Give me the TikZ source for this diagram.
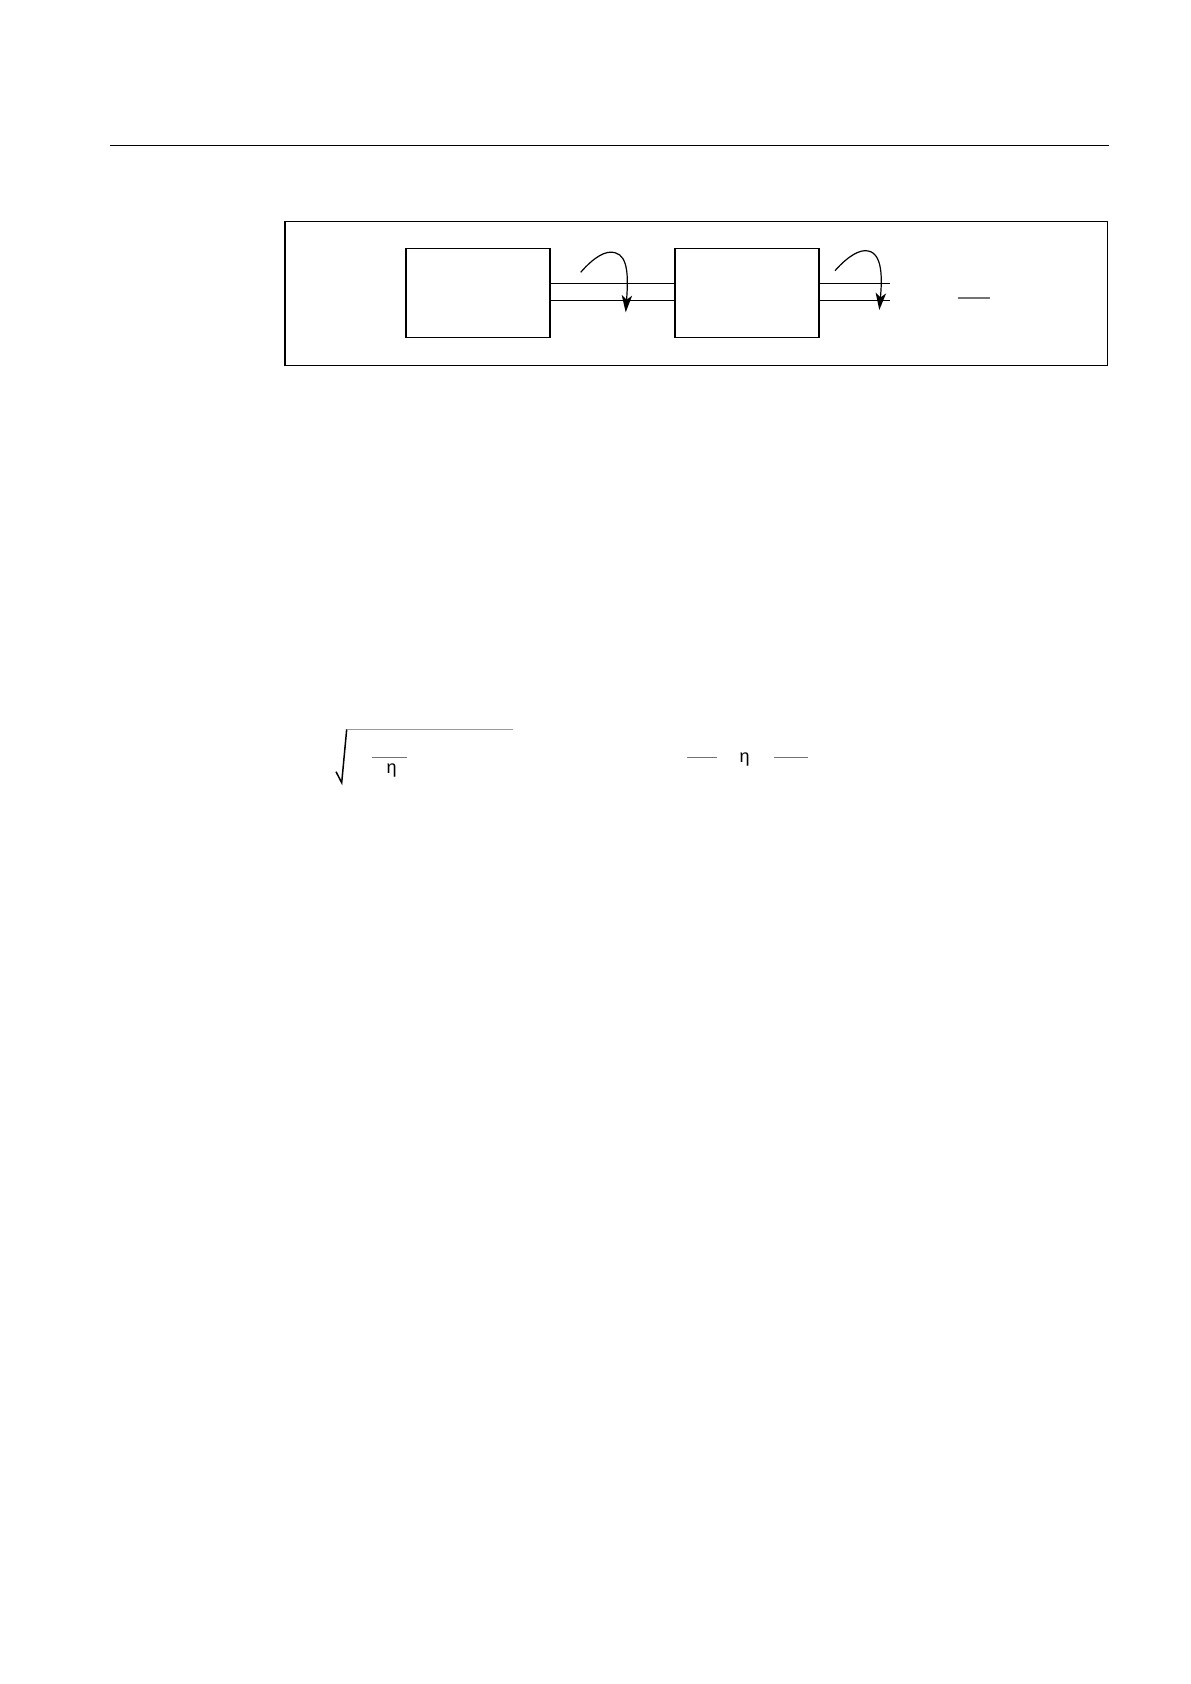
\documentclass[tikz,border=0pt]{standalone}
\usepackage{fontspec}
\setmainfont{Liberation Sans}
\usetikzlibrary{arrows.meta}
\begin{document}
\begin{tikzpicture}[x=0.5pt,y=-0.5pt,
  frame/.style={draw=black,line width=0.6pt},
  blockbox/.style={draw=black,line width=0.6pt,minimum width=72pt,minimum height=44.35pt,inner sep=0pt,anchor=north west},
  wire/.style={draw=black,line width=0.55pt},
  turn/.style={draw=black,line width=0.6pt,-{Stealth[length=8.5pt,width=5.2pt,inset=2.2pt]}},
  grayrule/.style={draw=black!55,line width=0.6pt},
  lightrule/.style={draw=black!40,line width=0.7pt},
  eta/.style={inner sep=0pt,anchor=base,font=\fontsize{9pt}{10pt}\selectfont}]
\useasboundingbox (0,0) rectangle (1190,1684);
% header rule
\coordinate (hl) at (110,145.5);
\coordinate (hr) at (1109,145.5);
\draw[line width=0.65pt] (hl) -- (hr);
% outer frame
\node[frame,inner sep=0pt,minimum width=411.2pt,minimum height=72pt,anchor=north west] (outer) at (284.3,221.3) {};
% blocks
\node[blockbox] (b1) at (405.3,248.3) {};
\node[blockbox] (b2) at (674.3,248.3) {};
% wires between blocks
\coordinate (w1a) at (549.3,283.5);
\coordinate (w1b) at (674.3,283.5);
\coordinate (w2a) at (549.3,300.5);
\coordinate (w2b) at (674.3,300.5);
\draw[wire] (w1a) -- (w1b);
\draw[wire] (w2a) -- (w2b);
% output wires
\coordinate (o1a) at (818.3,283.5);
\coordinate (o1b) at (890,283.5);
\coordinate (o2a) at (818.3,300.5);
\coordinate (o2b) at (890,300.5);
\draw[wire] (o1a) -- (o1b);
\draw[wire] (o2a) -- (o2b);
% curved arrows
\coordinate (a1s) at (580.7,272.3);
\coordinate (a1p) at (615,252.7);
\coordinate (a1t) at (625.7,312.3);
\draw[turn] (a1s) .. controls (594,257) and (606,250) .. (a1p) .. controls (629,256) and (628,280) .. (a1t);
\coordinate (a2s) at (835,270.7);
\coordinate (a2p) at (868.3,251);
\coordinate (a2t) at (879.3,310);
\draw[turn] (a2s) .. controls (848,256) and (860,249) .. (a2p) .. controls (883,254) and (882,280) .. (a2t);
% short gray dash in frame
\coordinate (g1) at (957.7,298);
\coordinate (g2) at (990,298);
\draw[grayrule] (g1) -- (g2);
% radical expression
\coordinate (r0) at (336,771.7);
\coordinate (r1) at (341.7,782.7);
\coordinate (r2) at (346.7,729.3);
\coordinate (r3) at (513.3,729.3);
\draw[black,line width=0.75pt,line join=miter] (r0) -- (r1) -- (r2);
\draw[lightrule] (r2) -- (r3);
\coordinate (f1a) at (372.3,757.3);
\coordinate (f1b) at (406.7,757.3);
\draw[grayrule] (f1a) -- (f1b);
\node[eta] (eta1) at (391.7,773.6) {η};
% second expression
\coordinate (f2a) at (687.3,757.3);
\coordinate (f2b) at (716.7,757.3);
\draw[grayrule] (f2a) -- (f2b);
\node[eta] (eta2) at (744.7,762.6) {η};
\coordinate (f3a) at (774,757.3);
\coordinate (f3b) at (808.3,757.3);
\draw[grayrule] (f3a) -- (f3b);
\end{tikzpicture}
\end{document}
